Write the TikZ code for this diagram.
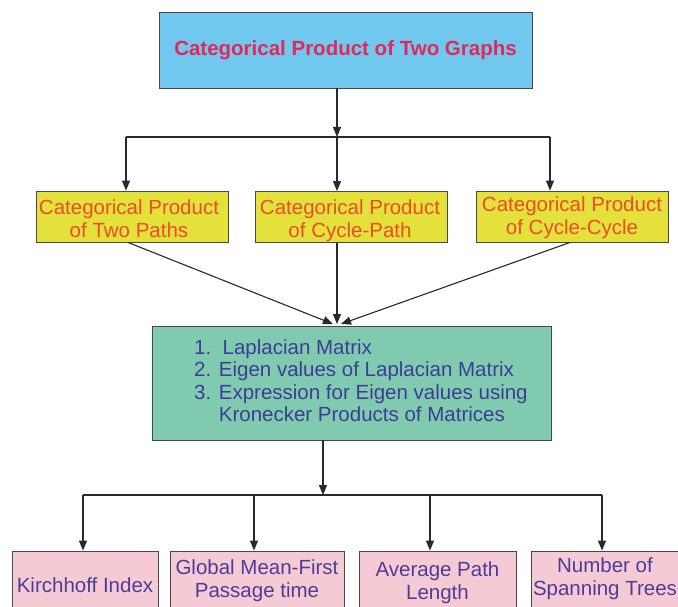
\documentclass[tikz,border=0pt]{standalone}
\usepackage{fontspec}
\setmainfont{Liberation Sans}
\usetikzlibrary{arrows.meta}
\definecolor{topfill}{RGB}{112,200,238}
\definecolor{titlecol}{RGB}{226,40,90}
\definecolor{yelfill}{RGB}{228,226,58}
\definecolor{yeltext}{RGB}{234,76,44}
\definecolor{grnfill}{RGB}{128,203,176}
\definecolor{bluetext}{RGB}{62,60,150}
\definecolor{pinkfill}{RGB}{246,202,212}
\definecolor{pinktext}{RGB}{76,62,150}
\definecolor{linecol}{RGB}{40,40,45}
\tikzset{
  txt/.style={font=\fontsize{20.5}{22.5}\selectfont, inner sep=0pt, align=center},
  boxst/.style={draw=linecol!85, line width=0.9pt, inner sep=0pt, align=center,
                font=\fontsize{20.5}{22.5}\selectfont},
  topbox/.style={boxst, fill=topfill, text=titlecol, minimum width=373pt, minimum height=76pt},
  yelbox/.style={boxst, fill=yelfill, minimum width=192pt, minimum height=51pt},
  grnbox/.style={boxst, fill=grnfill, minimum width=399pt, minimum height=114pt},
  pinkbox/.style={boxst, fill=pinkfill},
  conn/.style={draw=linecol, line width=1.1pt},
  arr/.style={conn, -{Triangle[length=10pt,width=8pt]}},
}
\begin{document}
\begin{tikzpicture}[x=1pt,y=-1pt]
\useasboundingbox (0,0) rectangle (678,607);
% top
\node[topbox] (top) at (345.5,50) {\bfseries Categorical Product of Two Graphs};
% level 2
\node[yelbox] (p1) at (132,216.5) {};
\node[yelbox] (p2) at (351.5,217) {};
\node[yelbox] (p3) at (572,216.5) {};
\node[txt, text=yeltext, anchor=base] (y1) at (129,237) {Categorical Product\\of Two Paths};
\node[txt, text=yeltext, anchor=base] (y2) at (350,237) {Categorical Product\\of Cycle-Path};
\node[txt, text=yeltext, anchor=base] (y3) at (572,234) {Categorical Product\\of Cycle-Cycle};
% green
\node[grnbox] (lap) at (351.5,383) {};
\node[txt, text=bluetext, align=left, anchor=north west] (laptext) at (194,339)
  {1.\ \ Laplacian Matrix\\2. Eigen values of Laplacian Matrix\\3. Expression for Eigen values using\\\hphantom{3. }Kronecker Products of Matrices};
% bottom boxes
\node[pinkbox, minimum width=146pt, minimum height=70pt] (b1) at (85,586) {};
\node[pinkbox, minimum width=174pt, minimum height=70pt] (b2) at (257,586) {};
\node[pinkbox, minimum width=157pt, minimum height=70pt] (b3) at (437.5,586) {};
\node[pinkbox, minimum width=162pt, minimum height=70pt] (b4) at (612,586) {};
\node[txt, text=pinktext, anchor=base] (t1) at (85,592) {Kirchhoff Index};
\node[txt, text=pinktext, anchor=base] (t2) at (257,597) {Global Mean-First\\Passage time};
\node[txt, text=pinktext, anchor=base] (t3) at (437.5,599) {Average Path\\Length};
\node[txt, text=pinktext, anchor=base] (t4) at (605,595) {Number of\\Spanning Trees};
% connectors top
\coordinate (j1) at (337,137);
\coordinate (hl) at (126,137);
\coordinate (hr) at (550,137);
\draw[arr] (top.south -| j1) -- (j1);
\draw[conn] (hl) -- (hr);
\draw[arr] (hl) -- (hl |- p1.north);
\draw[arr] (j1) -- (j1 |- p2.north);
\draw[arr] (hr) -- (hr |- p3.north);
% converge
\coordinate (conv) at (337,324);
\coordinate (cl) at (333,324);
\coordinate (cr) at (341,324);
\draw[arr] ([xshift=-4pt]p1.south) -- (cl);
\draw[arr] (p2.south -| conv) -- (conv);
\draw[arr] ([xshift=-2pt]p3.south) -- (cr);
% bottom
\coordinate (j2) at (323,495);
\coordinate (bl) at (83,495);
\coordinate (m1) at (254,495);
\coordinate (m2) at (430,495);
\coordinate (br) at (602,495);
\draw[arr] (lap.south -| j2) -- (j2);
\draw[conn] (bl) -- (br);
\draw[arr] (bl) -- (bl |- b1.north);
\draw[arr] (m1) -- (m1 |- b2.north);
\draw[arr] (m2) -- (m2 |- b3.north);
\draw[arr] (br) -- (br |- b4.north);
\end{tikzpicture}
\end{document}
